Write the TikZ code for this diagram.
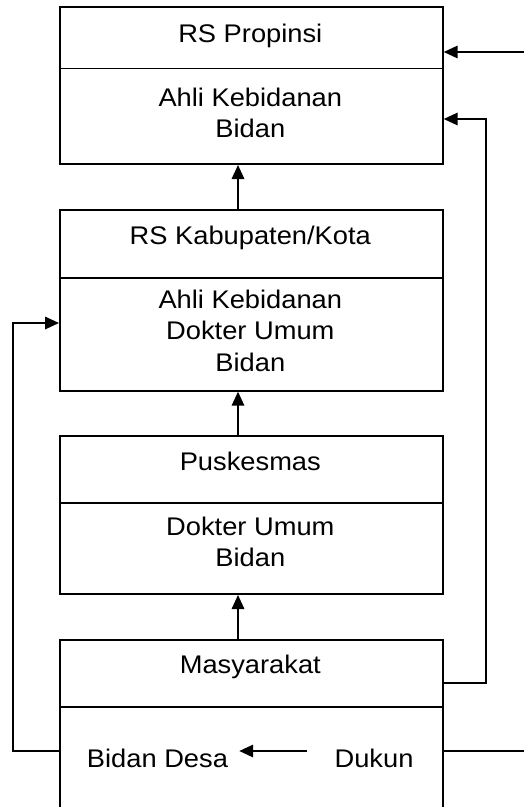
\documentclass[tikz,border=0pt]{standalone}
\usepackage{fontspec}
\setmainfont{Liberation Sans}[FakeStretch=1.07]
\usetikzlibrary{arrows.meta}

\tikzset{
  part/.style={draw, line width=1.7pt, minimum width=383pt, inner sep=0pt, anchor=north west},
  lbl/.style={font=\fontsize{25.5}{31}\selectfont, inner sep=0pt, anchor=base},
  link/.style={line width=1.7pt},
  arr/.style={link, -{Triangle[length=14pt, width=12.5pt]}}
}

\begin{document}
\begin{tikzpicture}[x=1pt, y=-1pt]
  \clip (0,0) rectangle (524,807);

  % box outlines, top to bottom
  \node[part, minimum height=61.7pt] (b1top) at (59,6) {};
  \node[part, minimum height=95.6pt] (b1bot) at (59,67.7) {};
  \node[part, minimum height=68pt]   (b2top) at (59,209.3) {};
  \node[part, minimum height=112.7pt] (b2bot) at (59,277.3) {};
  \node[part, minimum height=67.3pt] (b3top) at (59,435) {};
  \node[part, minimum height=91pt]   (b3bot) at (59,502.3) {};
  \node[part, minimum height=67pt]   (b4top) at (59,639) {};
  \node[part, minimum height=120pt]  (b4bot) at (59,706) {};

  % labels
  \node[lbl] (t1a) at (250.3,42.3)  {RS Propinsi};
  \node[lbl] (t1b) at (250.3,106)   {Ahli Kebidanan};
  \node[lbl] (t1c) at (250.3,137.3) {Bidan};
  \node[lbl] (t2a) at (250.3,244.3) {RS Kabupaten/Kota};
  \node[lbl] (t2b) at (250.3,308.3) {Ahli Kebidanan};
  \node[lbl] (t2c) at (250.3,339.8) {Dokter Umum};
  \node[lbl] (t2d) at (250.3,371.5) {Bidan};
  \node[lbl] (t3a) at (250.3,470.7) {Puskesmas};
  \node[lbl] (t3b) at (250.3,535)   {Dokter Umum};
  \node[lbl] (t3c) at (250.3,566)   {Bidan};
  \node[lbl] (t4a) at (250.3,673.3) {Masyarakat};
  \node[lbl] (bidandesa) at (157.5,767.3) {Bidan Desa};
  \node[lbl] (dukun)     at (374,767.3)   {Dukun};

  % guide coordinates for the connector routes
  \coordinate (cx)   at (238,0);
  \coordinate (row)  at (0,751);
  \coordinate (inR)  at (524,52);
  \coordinate (outR) at (524,751);
  \coordinate (rtop) at (486,119);
  \coordinate (rbot) at (486,683);
  \coordinate (ltop) at (13,323);
  \coordinate (lbot) at (13,751);

  % referral arrows between levels
  \draw[arr] (b2top.north -| cx) -- (b1bot.south -| cx);
  \draw[arr] (b3top.north -| cx) -- (b2bot.south -| cx);
  \draw[arr] (b4top.north -| cx) -- (b3bot.south -| cx);

  % side routes
  \draw[arr] (inR) -- (inR -| b1top.east);
  \draw[arr] (rbot -| b4top.east) -- (rbot) -- (rtop) -- (rtop -| b1bot.east);
  \draw[arr] (lbot -| b4bot.west) -- (lbot) -- (ltop) -- (ltop -| b2bot.west);
  \draw[link] (outR -| b4bot.east) -- (outR);

  % Dukun to Bidan Desa
  \draw[arr, shorten <=27pt, shorten >=11pt] (dukun.west |- row) -- (bidandesa.east |- row);
\end{tikzpicture}
\end{document}
